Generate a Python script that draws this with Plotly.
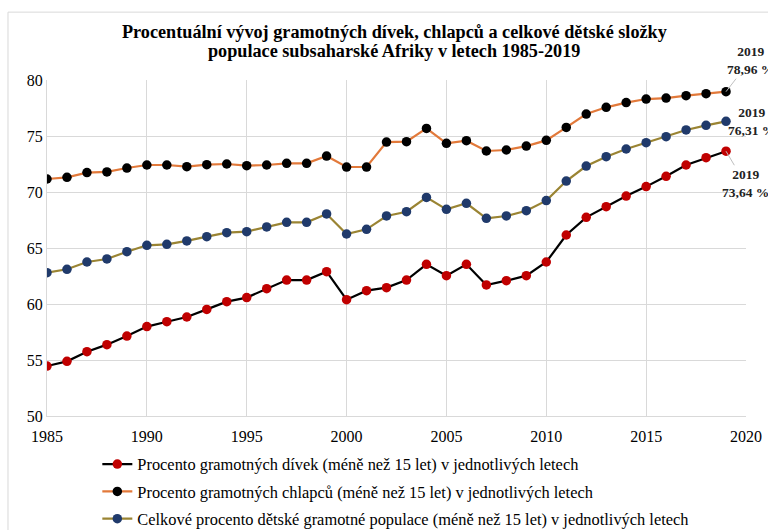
import plotly.graph_objects as go

years = list(range(1985, 2020))

girls = [54.46, 54.88, 55.74, 56.37, 57.14, 57.98, 58.42, 58.84, 59.52, 60.21,
         60.57, 61.37, 62.14, 62.14, 62.89, 60.39, 61.19, 61.46, 62.14, 63.54,
         62.53, 63.54, 61.70, 62.08, 62.53, 63.75, 66.16, 67.74, 68.69, 69.64,
         70.48, 71.40, 72.41, 73.06, 73.64]

boys = [71.16, 71.31, 71.73, 71.79, 72.14, 72.41, 72.41, 72.26, 72.44, 72.50,
        72.35, 72.41, 72.56, 72.56, 73.21, 72.23, 72.23, 74.46, 74.49, 75.68,
        74.35, 74.58, 73.66, 73.75, 74.10, 74.61, 75.77, 76.96, 77.56, 77.98,
        78.30, 78.39, 78.60, 78.78, 78.96]

total = [62.80, 63.10, 63.75, 64.02, 64.67, 65.24, 65.33, 65.63, 66.01, 66.37,
         66.46, 66.88, 67.29, 67.29, 68.04, 66.25, 66.67, 67.86, 68.24, 69.52,
         68.45, 68.99, 67.65, 67.86, 68.33, 69.23, 70.98, 72.32, 73.15, 73.84,
         74.40, 74.94, 75.54, 75.95, 76.31]

names = [
    "Procento gramotných dívek (méně než 15 let) v jednotlivých letech",
    "Procento gramotných chlapců (méně než 15 let) v jednotlivých letech",
    "Celkové procento dětské gramotné populace (méně než 15 let) v jednotlivých letech",
]

title_lines = [
    "Procentuální vývoj gramotných dívek, chlapců a celkové dětské složky",
    "populace subsaharské Afriky v letech 1985-2019",
]

label_texts = ["<b>2019<br>73,64 %</b>", "<b>2019<br>78,96 %</b>", "<b>2019<br>76,31 %</b>"]

serif = "Liberation Serif"

fig = go.Figure()
series = [
    (girls, "#000000", "#c00000"),
    (boys, "#e2793a", "#000000"),
    (total, "#9a8433", "#203a6b"),
]
for i, (vals, lc, mc) in enumerate(series):
    fig.add_trace(go.Scatter(
        x=years, y=vals, mode="lines+markers", name=names[i],
        legendgroup=f"g{i}",
        line=dict(color=lc, width=2.2),
        marker=dict(color=mc, size=9.5),
    ))

lab_font = dict(family=serif, size=13.5, color="#222")
fig.add_annotation(x=years[-1], y=boys[-1], text=label_texts[1], showarrow=True,
                   ax=24, ay=-31, arrowhead=0, arrowwidth=1, arrowcolor="#bfbfbf",
                   font=lab_font, align="center")
fig.add_annotation(x=years[-1], y=total[-1], text=label_texts[2], showarrow=False,
                   xshift=25, yshift=0, font=lab_font, align="center")
fig.add_annotation(x=years[-1], y=girls[-1], text=label_texts[0], showarrow=True,
                   ax=19, ay=32, arrowhead=0, arrowwidth=1, arrowcolor="#bfbfbf",
                   font=lab_font, align="center")

# two-line title, tight line spacing
for line, shift in zip(title_lines, [48.5, 29.5]):
    fig.add_annotation(xref="paper", yref="paper", x=(394 - 47) / 699, y=1,
                       xanchor="center", yanchor="middle", yshift=shift,
                       text=f"<b>{line}</b>", showarrow=False,
                       font=dict(family=serif, size=18.2, color="#000"))

# light chart-area border
fig.add_shape(type="rect", xref="paper", yref="paper",
              x0=-0.0558, x1=1.2, y0=-0.6, y1=1.202,
              line=dict(color="#d9d9d9", width=1), layer="below")

fig.update_layout(
    width=768, height=530,
    margin=dict(l=47, r=22, t=80, b=114, autoexpand=False),
    paper_bgcolor="white", plot_bgcolor="white",
    font=dict(family=serif, size=16, color="#000"),
    showlegend=True,
    legend=dict(
        x=0.072, xanchor="left", y=-0.092, yanchor="top",
        font=dict(family=serif, size=16.4, color="#000"),
        tracegroupgap=3, bgcolor="rgba(0,0,0,0)", itemwidth=30,
    ),
    xaxis=dict(
        range=[1985, 2020], tickmode="linear", tick0=1985, dtick=5,
        showgrid=True, gridcolor="#d9d9d9", gridwidth=1,
        showline=True, linecolor="#d9d9d9", zeroline=False, automargin=False,
        ticks="", tickfont=dict(family=serif, size=16), ticklabelstandoff=6,
    ),
    yaxis=dict(
        range=[50, 80], tickmode="linear", tick0=50, dtick=5,
        showgrid=True, gridcolor="#d9d9d9", gridwidth=1,
        showline=True, linecolor="#d9d9d9", zeroline=False, automargin=False,
        ticks="", tickfont=dict(family=serif, size=16),
    ),
)

fig.write_html(
    "out.html",
    config={"displayModeBar": False},
    post_script="document.body.style.margin='0';document.body.style.overflow='hidden';",
)
